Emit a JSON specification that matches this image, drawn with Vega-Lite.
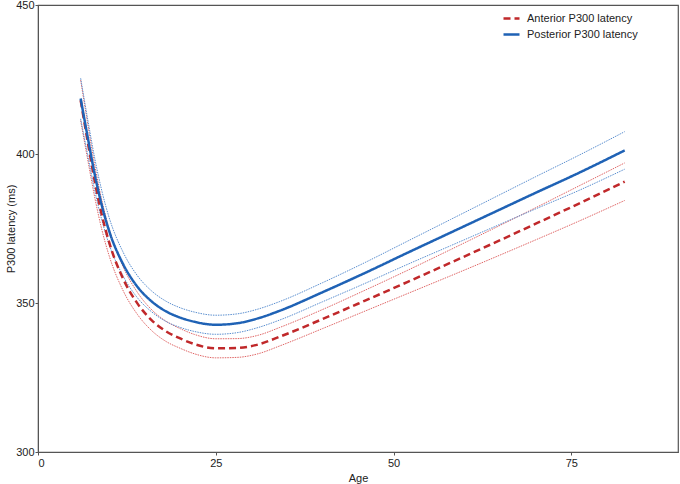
{
  "$schema": "https://vega.github.io/schema/vega-lite/v6.json",
  "width": 640,
  "height": 447,
  "autosize": {"type": "none"},
  "padding": {"left": 38, "top": 5, "right": 2, "bottom": 32},
  "config": {
    "font": "Liberation Sans",
    "view": {"stroke": "#555", "strokeWidth": 1.2},
    "axis": {
      "grid": false,
      "labelFontSize": 11,
      "titleFontSize": 11,
      "titleFontWeight": "normal",
      "labelColor": "#222",
      "titleColor": "#222",
      "domainColor": "#555",
      "tickColor": "#555",
      "tickSize": 3,
      "labelPadding": 2
    }
  },
  "data": {
    "values": [
      {"age": 6, "a": 418.0, "a_lo": 411.2, "a_hi": 424.8, "p": 418.6, "p_lo": 411.8, "p_hi": 425.4},
      {"age": 7, "a": 404.0, "a_lo": 398.0, "a_hi": 410.0, "p": 405.5, "p_lo": 399.5, "p_hi": 411.5},
      {"age": 8, "a": 390.6, "a_lo": 385.2, "a_hi": 396.0, "p": 392.9, "p_lo": 387.5, "p_hi": 398.3},
      {"age": 9, "a": 379.3, "a_lo": 374.4, "a_hi": 384.2, "p": 382.5, "p_lo": 377.6, "p_hi": 387.4},
      {"age": 10, "a": 370.4, "a_lo": 365.9, "a_hi": 374.9, "p": 374.2, "p_lo": 369.7, "p_hi": 378.7},
      {"age": 12, "a": 358.0, "a_lo": 354.0, "a_hi": 362.0, "p": 362.9, "p_lo": 358.9, "p_hi": 366.9},
      {"age": 14, "a": 349.8, "a_lo": 346.1, "a_hi": 353.5, "p": 355.4, "p_lo": 351.7, "p_hi": 359.1},
      {"age": 16, "a": 344.2, "a_lo": 340.7, "a_hi": 347.7, "p": 350.5, "p_lo": 347.0, "p_hi": 354.0},
      {"age": 18, "a": 340.5, "a_lo": 337.1, "a_hi": 343.9, "p": 347.2, "p_lo": 343.8, "p_hi": 350.6},
      {"age": 20, "a": 338.1, "a_lo": 334.8, "a_hi": 341.4, "p": 345.1, "p_lo": 341.8, "p_hi": 348.4},
      {"age": 22, "a": 336.2, "a_lo": 332.95, "a_hi": 339.45, "p": 343.7, "p_lo": 340.45, "p_hi": 346.95},
      {"age": 25, "a": 334.8, "a_lo": 331.6, "a_hi": 338.0, "p": 342.7, "p_lo": 339.5, "p_hi": 345.9},
      {"age": 28, "a": 334.9, "a_lo": 331.75, "a_hi": 338.05, "p": 343.2, "p_lo": 340.05, "p_hi": 346.35},
      {"age": 31, "a": 336.1, "a_lo": 333.0, "a_hi": 339.2, "p": 344.9, "p_lo": 341.8, "p_hi": 348.0},
      {"age": 34, "a": 338.7, "a_lo": 335.6, "a_hi": 341.8, "p": 347.4, "p_lo": 344.3, "p_hi": 350.5},
      {"age": 40, "a": 344.6, "a_lo": 341.4, "a_hi": 347.8, "p": 353.6, "p_lo": 350.4, "p_hi": 356.8},
      {"age": 46, "a": 350.8, "a_lo": 347.3, "a_hi": 354.3, "p": 360.1, "p_lo": 356.6, "p_hi": 363.6},
      {"age": 52, "a": 357.1, "a_lo": 353.2, "a_hi": 361.0, "p": 366.9, "p_lo": 363.0, "p_hi": 370.8},
      {"age": 58, "a": 363.5, "a_lo": 359.1, "a_hi": 367.9, "p": 373.6, "p_lo": 369.2, "p_hi": 378.0},
      {"age": 64, "a": 370.0, "a_lo": 365.1, "a_hi": 374.9, "p": 380.3, "p_lo": 375.4, "p_hi": 385.2},
      {"age": 70, "a": 376.6, "a_lo": 371.2, "a_hi": 382.0, "p": 387.0, "p_lo": 381.6, "p_hi": 392.4},
      {"age": 76, "a": 383.3, "a_lo": 377.4, "a_hi": 389.2, "p": 393.6, "p_lo": 387.7, "p_hi": 399.5},
      {"age": 82.5, "a": 390.7, "a_lo": 384.4, "a_hi": 397.0, "p": 401.2, "p_lo": 394.9, "p_hi": 407.5}
    ]
  },
  "encoding": {
    "x": {
      "field": "age",
      "type": "quantitative",
      "title": "Age",
      "scale": {"domain": [0, 90], "nice": false},
      "axis": {"values": [0, 25, 50, 75], "titlePadding": 4}
    },
    "y": {
      "field": "val",
      "type": "quantitative",
      "title": "P300 latency (ms)",
      "scale": {"domain": [300, 450], "nice": false, "zero": false},
      "axis": {"values": [300, 350, 400, 450], "titlePadding": -1, "labelPadding": 1}
    }
  },
  "layer": [
    {
      "transform": [{"fold": ["a_lo", "a_hi"], "as": ["band", "val"]}],
      "mark": {"type": "line", "interpolate": "monotone", "color": "#e06666", "strokeWidth": 1, "strokeDash": [1.5, 1]},
      "encoding": {
        "detail": {"field": "band"}
      }
    },
    {
      "transform": [{"fold": ["p_lo", "p_hi"], "as": ["band", "val"]}],
      "mark": {"type": "line", "interpolate": "monotone", "color": "#5b8fd0", "strokeWidth": 1, "strokeDash": [1.5, 1]},
      "encoding": {
        "detail": {"field": "band"}
      }
    },
    {
      "transform": [{"fold": ["a", "p"], "as": ["series", "val"]}],
      "mark": {"type": "line", "interpolate": "monotone", "strokeWidth": 2.5},
      "encoding": {
        "color": {
          "field": "series",
          "type": "nominal",
          "scale": {"domain": ["a", "p"], "range": ["#c0282a", "#1f62b5"]},
          "legend": {
            "title": null,
            "orient": "none",
            "legendX": 464,
            "legendY": 4,
            "symbolType": "stroke",
            "symbolSize": 256,
            "symbolStrokeWidth": 2.5,
            "labelFontSize": 11,
            "labelColor": "#222",
            "labelOffset": 6,
            "rowPadding": 1,
            "labelExpr": "datum.label == 'a' ? 'Anterior P300 latency' : 'Posterior P300 latency'"
          }
        },
        "strokeDash": {
          "field": "series",
          "type": "nominal",
          "scale": {"domain": ["a", "p"], "range": [[7, 4], [1, 0]]},
          "legend": null
        }
      }
    }
  ]
}
